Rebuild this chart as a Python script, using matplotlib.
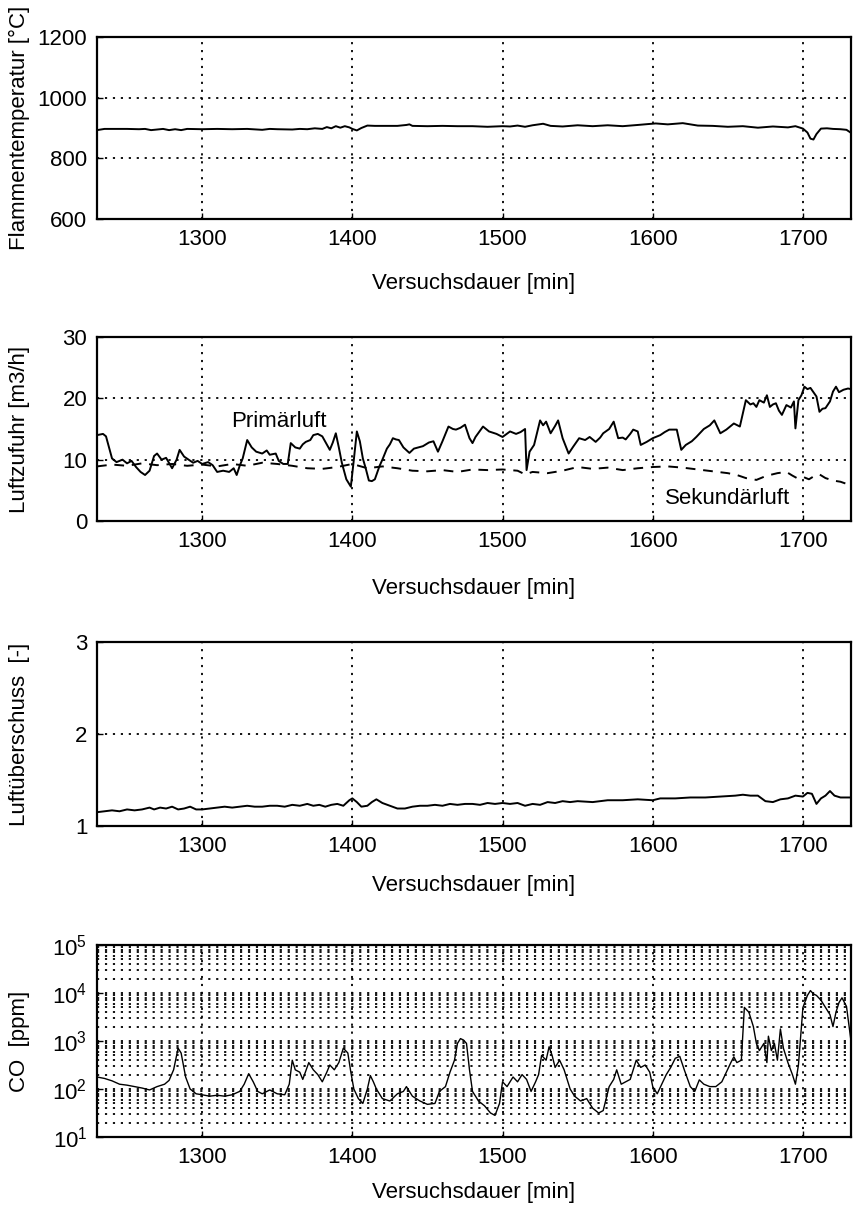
import numpy as np
import matplotlib
matplotlib.use("Agg")
import matplotlib.pyplot as plt
from matplotlib.ticker import FixedLocator, LogLocator, NullFormatter, FixedFormatter

plt.rcParams['font.family'] = ['Liberation Sans', 'DejaVu Sans']
plt.rcParams['mathtext.fontset'] = 'custom'
plt.rcParams['mathtext.rm'] = 'Liberation Sans'
plt.rcParams['mathtext.it'] = 'Liberation Sans:italic'
plt.rcParams['mathtext.bf'] = 'Liberation Sans:bold'

# ---- Flammentemperatur ----
t_temp = [1230, 1235, 1240, 1250, 1258, 1262, 1266, 1270, 1274, 1278, 1282, 1286, 1290,
          1300, 1310, 1320, 1330, 1340, 1345, 1350, 1360, 1365, 1370, 1375, 1380, 1383,
          1386, 1389, 1392, 1395, 1398, 1400, 1403, 1406, 1410, 1415, 1420, 1430, 1436,
          1438, 1440, 1450, 1460, 1470, 1480, 1490, 1500, 1505, 1510, 1515, 1520, 1527,
          1532, 1540, 1550, 1560, 1570, 1580, 1590, 1597, 1602, 1610, 1620, 1625, 1630,
          1640, 1650, 1660, 1670, 1680, 1690, 1695, 1700, 1703, 1705, 1707, 1709, 1712,
          1716, 1720, 1725, 1729, 1732]
temp = [893, 897, 897, 897, 896, 897, 893, 895, 897, 893, 896, 893, 897,
        896, 897, 896, 897, 894, 897, 896, 895, 897, 896, 899, 897, 903,
        899, 906, 901, 906, 902, 897, 892, 900, 908, 907, 907, 907, 910,
        912, 907, 906, 907, 906, 906, 904, 906, 905, 908, 904, 909, 914,
        907, 905, 909, 906, 909, 906, 910, 913, 915, 912, 916, 912, 908,
        907, 904, 906, 901, 905, 902, 906, 898, 885, 865, 862, 880, 898,
        899, 897, 896, 894, 884]

# ---- Luftzufuhr ----
t_prim = [1230, 1234, 1236, 1240, 1243, 1247, 1250, 1253, 1256, 1259, 1262, 1265, 1268,
          1270, 1273, 1276, 1280, 1283, 1285, 1288, 1291, 1294, 1297, 1300, 1304, 1307,
          1310, 1314, 1318, 1321, 1323, 1325, 1327, 1330, 1333, 1336, 1340, 1343, 1345,
          1349, 1351, 1354, 1357, 1359, 1362, 1365, 1367, 1369, 1372, 1374, 1377, 1380,
          1383, 1385, 1387, 1389, 1391, 1393, 1396, 1399, 1401, 1403, 1405, 1407, 1409,
          1411, 1413, 1415, 1418, 1420, 1423, 1425, 1427, 1429, 1431, 1434, 1438, 1441,
          1444, 1447, 1451, 1454, 1457, 1460, 1464, 1467, 1469, 1472, 1475, 1478, 1480,
          1482, 1487, 1491, 1496, 1500, 1505, 1509, 1512, 1515, 1516, 1518, 1521, 1525,
          1527, 1529, 1532, 1535, 1537, 1540, 1544, 1547, 1551, 1555, 1558, 1562, 1565,
          1567, 1571, 1574, 1577, 1580, 1582, 1585, 1587, 1590, 1592, 1596, 1600, 1605,
          1608, 1611, 1616, 1619, 1622, 1626, 1629, 1634, 1638, 1641, 1645, 1649, 1654,
          1658, 1662, 1665, 1667, 1669, 1671, 1674, 1676, 1678, 1680, 1682, 1684, 1686,
          1689, 1692, 1694, 1695, 1697, 1699, 1701, 1703, 1705, 1707, 1709, 1711, 1713,
          1715, 1718, 1720, 1722, 1724, 1727, 1730, 1732]
prim = [14.0, 14.2, 13.8, 10.2, 9.6, 10.0, 9.4, 9.8, 8.8, 8.0, 7.5, 8.2, 10.6,
        11.0, 10.0, 10.3, 8.6, 10.0, 11.6, 10.5, 10.0, 9.5, 9.8, 9.3, 9.6, 9.1,
        8.0, 8.2, 8.0, 8.6, 7.5, 9.0, 10.2, 13.2, 12.0, 11.3, 11.0, 11.5, 10.8,
        11.0, 9.8, 9.3, 9.3, 12.7, 12.0, 11.8, 12.5, 12.9, 13.2, 14.0, 14.2, 13.8,
        12.5, 11.6, 12.8, 14.3, 12.0, 9.5, 6.8, 5.6, 10.0, 14.6, 13.0, 10.2, 8.5,
        6.6, 6.5, 6.8, 8.9, 10.0, 11.8, 12.5, 13.5, 13.3, 13.2, 12.0, 11.1, 11.8,
        12.0, 12.2, 12.8, 13.0, 11.3, 13.0, 15.4, 15.0, 14.9, 15.2, 15.7, 13.5, 12.7,
        13.7, 15.4, 14.6, 14.2, 13.7, 14.6, 14.2, 14.5, 15.0, 8.3, 11.3, 12.4, 16.4,
        15.6, 16.2, 14.3, 15.5, 16.4, 13.5, 11.0, 12.1, 13.5, 13.2, 13.7, 12.9, 13.6,
        14.3, 15.0, 16.2, 13.5, 13.6, 13.3, 14.2, 14.9, 14.6, 12.4, 12.9, 13.5, 14.0,
        14.5, 14.9, 14.9, 11.6, 12.4, 13.0, 13.7, 15.0, 15.6, 16.4, 14.3, 14.9, 15.9,
        15.4, 19.7, 19.0, 19.2, 18.6, 19.7, 19.3, 20.5, 18.6, 19.0, 19.2, 18.0, 17.3,
        18.9, 18.5, 19.5, 15.1, 19.7, 20.5, 21.9, 21.5, 21.7, 21.0, 20.3, 17.8, 18.3,
        18.4, 19.5, 21.1, 21.9, 21.0, 21.4, 21.6, 21.5]

t_sek = [1230, 1240, 1250, 1260, 1270, 1280, 1290, 1300, 1310, 1320, 1330, 1340, 1350,
         1360, 1370, 1380, 1390, 1400, 1410, 1420, 1430, 1440, 1450, 1460, 1470, 1480,
         1490, 1500, 1510, 1515, 1520, 1530, 1540, 1550, 1560, 1570, 1580, 1590, 1600,
         1610, 1620, 1630, 1640, 1650, 1656, 1662, 1669, 1674, 1678, 1683, 1689, 1693,
         1696, 1700, 1704, 1708, 1711, 1715, 1720, 1725, 1732]
sek = [8.9, 9.2, 9.0, 9.4, 9.1, 9.3, 9.0, 9.2, 8.9, 9.3, 9.0, 9.5, 9.3,
       9.0, 8.6, 8.5, 8.8, 9.3, 8.6, 8.9, 8.6, 8.2, 8.1, 8.3, 8.0, 8.4,
       8.3, 8.4, 8.2, 7.6, 8.0, 7.8, 8.2, 8.8, 8.5, 8.7, 8.3, 8.6, 8.8,
       8.9, 8.7, 8.4, 8.1, 7.8, 7.5, 7.0, 6.7, 7.2, 7.5, 7.8, 8.0, 7.4,
       7.0, 7.2, 6.8, 7.4, 7.6, 7.0, 6.6, 6.4, 5.8]

# ---- Luftueberschuss ----
t_lambda = [1230, 1235, 1240, 1245, 1250, 1255, 1260, 1265, 1268, 1272, 1276, 1280, 1284,
            1288, 1292, 1296, 1300, 1305, 1310, 1315, 1320, 1325, 1330, 1335, 1340, 1345,
            1350, 1355, 1360, 1365, 1370, 1374, 1378, 1382, 1386, 1390, 1394, 1398, 1400,
            1403, 1406, 1410, 1413, 1416, 1420, 1425, 1430, 1435, 1440, 1445, 1450, 1455,
            1460, 1465, 1470, 1475, 1480, 1485, 1490, 1495, 1500, 1505, 1510, 1515, 1520,
            1525, 1530, 1535, 1540, 1545, 1550, 1560, 1570, 1580, 1590, 1600, 1605, 1615,
            1625, 1635, 1645, 1655, 1660, 1665, 1670, 1675, 1680, 1685, 1690, 1695, 1700,
            1703, 1706, 1709, 1712, 1715, 1718, 1721, 1725, 1732]
lam = [1.15, 1.16, 1.17, 1.16, 1.18, 1.17, 1.18, 1.20, 1.18, 1.20, 1.19, 1.21, 1.18,
       1.19, 1.21, 1.18, 1.18, 1.19, 1.20, 1.21, 1.20, 1.21, 1.22, 1.21, 1.21, 1.22,
       1.22, 1.21, 1.23, 1.22, 1.24, 1.22, 1.23, 1.21, 1.23, 1.24, 1.22, 1.28, 1.30,
       1.26, 1.21, 1.22, 1.26, 1.29, 1.25, 1.22, 1.19, 1.19, 1.21, 1.22, 1.22, 1.23,
       1.22, 1.24, 1.23, 1.24, 1.24, 1.23, 1.25, 1.24, 1.25, 1.24, 1.25, 1.22, 1.24,
       1.23, 1.26, 1.25, 1.27, 1.26, 1.27, 1.26, 1.28, 1.28, 1.29, 1.28, 1.30, 1.30,
       1.31, 1.31, 1.32, 1.33, 1.34, 1.33, 1.33, 1.27, 1.26, 1.29, 1.30, 1.33, 1.32,
       1.36, 1.35, 1.24, 1.30, 1.33, 1.38, 1.33, 1.31, 1.31]

# ---- CO (log10 ppm) ----
t_co = [1230, 1235, 1240, 1245, 1250, 1255, 1260, 1265, 1270, 1275, 1278, 1281, 1284,
        1286, 1289, 1292, 1296, 1300, 1305, 1310, 1315, 1320, 1325, 1328, 1331, 1334,
        1337, 1340, 1345, 1350, 1355, 1358, 1360, 1362, 1365, 1367, 1371, 1374, 1377,
        1380, 1383, 1385, 1388, 1391, 1394, 1397, 1399, 1401, 1404, 1407, 1410, 1412,
        1414, 1416, 1420, 1425, 1430, 1434, 1436, 1440, 1445, 1450, 1455, 1458, 1462,
        1465, 1468, 1470, 1472, 1474, 1476, 1478, 1480, 1484, 1488, 1492, 1495, 1498,
        1500, 1503, 1507, 1510, 1513, 1516, 1519, 1522, 1524, 1526, 1529, 1531, 1533,
        1535, 1538, 1541, 1545, 1548, 1552, 1556, 1560, 1564, 1567, 1571, 1574, 1576,
        1579, 1582, 1585, 1589, 1592, 1595, 1598, 1600, 1603, 1606, 1609, 1612, 1615,
        1618, 1621, 1625, 1628, 1631, 1634, 1638, 1642, 1646, 1649, 1652, 1654, 1656,
        1659, 1661, 1664, 1667, 1669, 1671, 1674, 1676, 1677, 1679, 1681, 1683, 1685,
        1687, 1690, 1693, 1695, 1697, 1700, 1703, 1705, 1707, 1709, 1712, 1714, 1716,
        1718, 1720, 1722, 1724, 1726, 1729, 1732]
co_log = [2.25, 2.22, 2.17, 2.10, 2.08, 2.05, 2.02, 1.98, 2.05, 2.10, 2.18, 2.40, 2.85,
          2.75, 2.25, 2.00, 1.90, 1.88, 1.85, 1.87, 1.85, 1.88, 1.95, 2.10, 2.32, 2.15,
          1.95, 1.90, 1.98, 1.90, 1.88, 2.10, 2.60, 2.40, 2.35, 2.20, 2.55, 2.40, 2.30,
          2.15, 2.35, 2.50, 2.40, 2.55, 2.85, 2.75, 2.35, 2.00, 1.80, 1.70, 2.00, 2.28,
          2.15, 2.00, 1.80, 1.75, 1.90, 1.95, 2.05, 1.85, 1.75, 1.68, 1.70, 1.95, 2.05,
          2.35, 2.60, 2.95, 3.05, 3.02, 2.95, 2.40, 1.95, 1.75, 1.65, 1.50, 1.45, 1.70,
          2.15, 2.05, 2.25, 2.15, 2.30, 2.20, 1.95, 2.15, 2.30, 2.70, 2.60, 2.88, 2.70,
          2.45, 2.60, 2.40, 2.00, 1.85, 1.75, 1.80, 1.60, 1.50, 1.55, 2.05, 2.20, 2.40,
          2.10, 2.15, 2.20, 2.60, 2.45, 2.50, 2.35, 2.05, 1.90, 2.10, 2.30, 2.45, 2.64,
          2.68, 2.40, 2.05, 1.95, 2.19, 2.10, 2.05, 2.05, 2.15, 2.35, 2.55, 2.67, 2.55,
          2.60, 3.70, 3.60, 3.30, 2.95, 2.80, 2.95, 2.55, 3.10, 2.80, 2.95, 2.60, 3.25,
          2.85, 2.55, 2.30, 2.10, 2.50, 3.70, 3.95, 4.05, 3.98, 3.95, 3.85, 3.75, 3.65,
          3.55, 3.30, 3.60, 3.80, 3.90, 3.72, 3.00]
co = [10 ** v for v in co_log]

x_ticks = [1300, 1400, 1500, 1600, 1700]
x_label = "Versuchsdauer [min]"

FS = 16
LW = 1.4
grid_kw = dict(color='black', linestyle=(0, (1.2, 3.2)), linewidth=1.3)

fig = plt.figure(figsize=(8.54, 12.13), dpi=100)
L, W = 97 / 854, 754 / 854
H = 1213


def make_axes(top_px, bot_px):
    return fig.add_axes([L, 1 - bot_px / H, W, (bot_px - top_px) / H])


def style(ax, ylabel, xpad=15):
    ax.set_xlim(1230, 1732)
    ax.xaxis.set_major_locator(FixedLocator(x_ticks))
    ax.tick_params(axis='both', which='both', direction='in', length=4, width=1,
                   labelsize=FS, pad=7, top=False, right=False)
    ax.tick_params(axis='y', which='minor', length=0)
    for s in ax.spines.values():
        s.set_linewidth(1.6)
    ax.set_xlabel(x_label, fontsize=FS, labelpad=xpad)
    ax.set_ylabel(ylabel, fontsize=FS)
    ax.yaxis.set_label_coords(-0.089, 0.5)
    ax.set_axisbelow(True)


# Panel 1
ax1 = make_axes(37, 219)
ax1.plot(t_temp, temp, color='black', lw=LW)
ax1.set_ylim(600, 1200)
ax1.set_yticks([600, 800, 1000, 1200])
ax1.grid(True, which='major', **grid_kw)
style(ax1, "Flammentemperatur [°C]", xpad=17)

# Panel 2
ax2 = make_axes(337, 521)
ax2.plot(t_prim, prim, color='black', lw=LW)
ax2.plot(t_sek, sek, color='black', lw=LW, linestyle=(0, (5, 4)))
ax2.set_ylim(0, 30)
ax2.set_yticks([0, 10, 20, 30])
ax2.grid(True, which='major', **grid_kw)
ax2.text(1351, 16.3, "Primärluft", fontsize=FS, ha='center', va='center')
ax2.text(1650, 3.7, "Sekundärluft", fontsize=FS, ha='center', va='center')
style(ax2, "Luftzufuhr [m3/h]", xpad=19)

# Panel 3
ax3 = make_axes(642, 826)
ax3.plot(t_lambda, lam, color='black', lw=LW)
ax3.set_ylim(1, 3)
ax3.set_yticks([1, 2, 3])
ax3.grid(True, which='major', **grid_kw)
style(ax3, "Luftüberschuss  [-]", xpad=13)

# Panel 4
ax4 = make_axes(945, 1137)
ax4.plot(t_co, co, color='black', lw=1.0)
ax4.set_yscale('log')
ax4.set_ylim(10, 1e5)
ax4.yaxis.set_major_locator(FixedLocator([1e1, 1e2, 1e3, 1e4, 1e5]))
ax4.yaxis.set_major_formatter(FixedFormatter([r'$10^{1}$', r'$10^{2}$', r'$10^{3}$',
                                              r'$10^{4}$', r'$10^{5}$']))
ax4.yaxis.set_minor_locator(LogLocator(base=10, subs=np.arange(2, 10), numticks=20))
ax4.yaxis.set_minor_formatter(NullFormatter())
ax4.grid(True, which='major', axis='both', **grid_kw)
ax4.grid(True, which='minor', axis='y', **grid_kw)
style(ax4, "CO  [ppm]", xpad=10)

fig.savefig("out.png", dpi=100)
